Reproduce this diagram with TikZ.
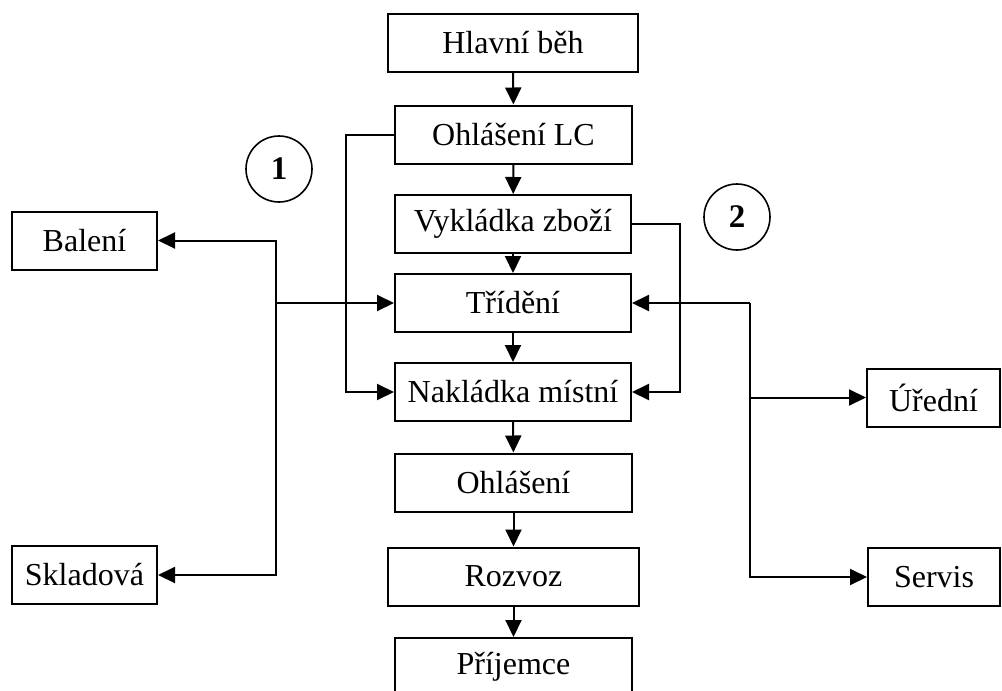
\documentclass[tikz,border=0pt]{standalone}
\usepackage{fontspec}
\setmainfont{Liberation Serif}
\usetikzlibrary{arrows.meta}
\begin{document}
\begin{tikzpicture}[x=0.5pt,y=-0.5pt,
  box/.style={draw,line width=1pt,inner sep=0pt,minimum height=29pt,
    font=\fontsize{16}{19}\selectfont},
  circ/.style={draw,circle,line width=0.8pt,inner sep=0pt,minimum size=33pt,
    font=\fontsize{16.5}{19}\selectfont\bfseries},
  conn/.style={line width=1pt,-{Triangle[length=8.5pt,width=8pt]}},
  plain/.style={line width=1pt}]
\useasboundingbox (0,0) rectangle (1002,691);
\clip (0,0) rectangle (1002,691);

% main column
\node[box,minimum width=125pt]  (hlavni) at (513,43)    {Hlavní běh};
\node[box,minimum width=118.5pt](lc)     at (513.5,134.5){Ohlášení LC};
\node[box,minimum width=118pt]  (vyk)    at (513,224)   {Vykládka zboží};
\node[box,minimum width=118pt]  (trid)   at (513,303)   {Třídění};
\node[box,minimum width=118pt]  (nakl)   at (513,392)   {Nakládka místní};
\node[box,minimum width=118.5pt](ohl)    at (513.5,482.5){Ohlášení};
\node[box,minimum width=125.5pt](rozvoz) at (513.5,576.5){Rozvoz};
\node[box,minimum width=118.5pt](prij)   at (513.5,667) {Příjemce};

% side boxes
\node[box,minimum width=72.5pt] (baleni) at (84.5,240.5){Balení};
\node[box,minimum width=72.5pt] (sklad)  at (84.5,575)  {Skladová};
\node[box,minimum width=66.5pt] (uredni) at (933.5,397.5){Úřední};
\node[box,minimum width=66pt]   (servis) at (934,577)   {Servis};

% numbered markers
\node[circ] (c1) at (279,169) {1};
\node[circ] (c2) at (737,217) {2};

% main flow
\draw[conn] (hlavni) -- (lc);
\draw[conn] (lc) -- (vyk);
\draw[conn] (vyk) -- (trid);
\draw[conn] (trid) -- (nakl);
\draw[conn] (nakl) -- (ohl);
\draw[conn] (ohl) -- (rozvoz);
\draw[conn] (rozvoz) -- (prij);

% bypass lines
\draw[conn] (lc.west) -- ++(-48,0) |- (nakl.west);
\draw[conn] (vyk.east) -- ++(48,0) |- (nakl.east);

% left branch
\coordinate (jl) at (276,303);
\draw[conn] (jl) -- (trid.west);
\draw[conn] (jl) |- (baleni.east);
\draw[conn] (jl) |- (sklad.east);

% right branch
\coordinate (jr) at (750,303);
\draw[conn] (jr) -- (trid.east);
\draw[conn] (jr) |- (uredni.west);
\draw[conn] (jr) |- (servis.west);
\end{tikzpicture}
\end{document}
